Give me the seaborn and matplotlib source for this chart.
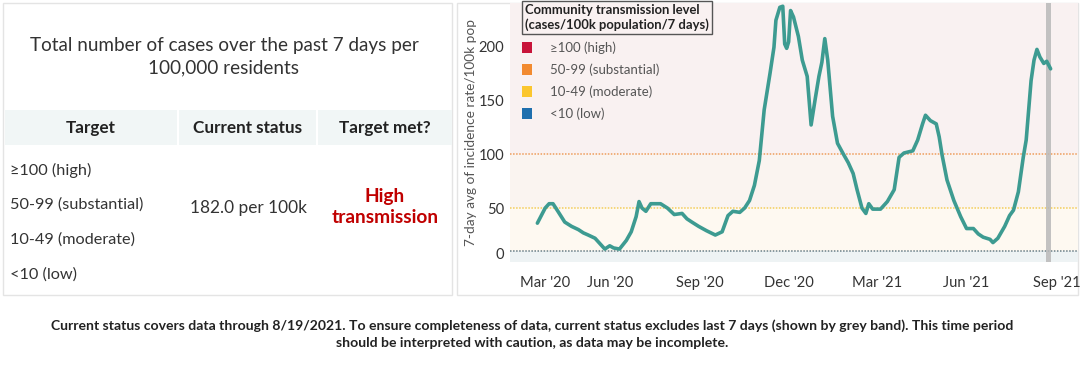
import pandas as pd
import seaborn as sns
import matplotlib
matplotlib.use("Agg")
import matplotlib.pyplot as plt
import matplotlib.dates as mdates
from matplotlib.patches import Patch, Rectangle

# ---------------------------------------------------------------------------
# data
# ---------------------------------------------------------------------------
dates = [
    "2020-03-19", "2020-03-27", "2020-03-31", "2020-04-04", "2020-04-09",
    "2020-04-16", "2020-04-23", "2020-04-30", "2020-05-05", "2020-05-10",
    "2020-05-17", "2020-05-27", "2020-06-01", "2020-06-05", "2020-06-11",
    "2020-06-18", "2020-06-23", "2020-06-28", "2020-07-01", "2020-07-04",
    "2020-07-08", "2020-07-13", "2020-07-23", "2020-07-30", "2020-08-06",
    "2020-08-14", "2020-08-19", "2020-08-24", "2020-08-31", "2020-09-08",
    "2020-09-17", "2020-09-24", "2020-09-30", "2020-10-05", "2020-10-12",
    "2020-10-17", "2020-10-22", "2020-10-27", "2020-11-01", "2020-11-06",
    "2020-11-12", "2020-11-16", "2020-11-18", "2020-11-22", "2020-11-25",
    "2020-11-27", "2020-11-29", "2020-12-01", "2020-12-03", "2020-12-06",
    "2020-12-11", "2020-12-15", "2020-12-20", "2020-12-24", "2020-12-28",
    "2021-01-01", "2021-01-04", "2021-01-07", "2021-01-10", "2021-01-15",
    "2021-01-20", "2021-01-26", "2021-01-31", "2021-02-05", "2021-02-09",
    "2021-02-14", "2021-02-18", "2021-02-21", "2021-02-25", "2021-03-05",
    "2021-03-12", "2021-03-19", "2021-03-24", "2021-03-29", "2021-04-07",
    "2021-04-12", "2021-04-17", "2021-04-20", "2021-04-25", "2021-05-01",
    "2021-05-04", "2021-05-07", "2021-05-12", "2021-05-19", "2021-05-26",
    "2021-06-01", "2021-06-08", "2021-06-13", "2021-06-18", "2021-06-25",
    "2021-06-28", "2021-07-03", "2021-07-10", "2021-07-15", "2021-07-19",
    "2021-07-24", "2021-07-29", "2021-08-01", "2021-08-06", "2021-08-09",
    "2021-08-12", "2021-08-15", "2021-08-19", "2021-08-22", "2021-08-26",
]
rates = [
    36, 50, 54, 54, 47,
    37, 33, 30, 27, 25,
    22, 12, 15, 13, 12,
    20, 28, 42, 56, 50,
    47, 54, 54, 50, 44,
    45, 40, 37, 33, 29,
    25, 28, 43, 47, 46,
    50, 57, 71, 94, 141,
    175, 199, 224, 236, 237,
    202, 198, 204, 233, 227,
    209, 187, 172, 127, 150,
    172, 185, 207, 187, 135,
    110, 100, 92, 82, 67,
    50, 45, 54, 49, 49,
    56, 67, 97, 101, 103,
    113, 128, 136, 131, 128,
    116, 99, 76, 57, 42,
    31, 31, 26, 23, 21,
    18, 22, 33, 43, 48,
    65, 97, 113, 168, 187,
    197, 190, 184, 186, 179,
]

band_edges = [0, 10, 50, 100, 240]
band_colors = ["#eef3f4", "#fef9f1", "#faf4f0", "#f9f1f1"]
threshold_values = [10, 50, 100]
threshold_colors = ["#6b7f87", "#f3cd5a", "#ee9d5c"]

level_labels = ["≥100 (high)", "50-99 (substantial)", "10-49 (moderate)", "<10 (low)"]
level_colors = ["#c8143a", "#f28a30", "#fbc62e", "#1f6fae"]

grey_band = ("2021-08-21", "2021-08-26")

table_title = "Total number of cases over the past 7 days per\n100,000 residents"
table_headers = ["Target", "Current status", "Target met?"]
table_targets = ["≥100 (high)", "50-99 (substantial)", "10-49 (moderate)", "<10 (low)"]
current_status = "182.0 per 100k"
target_met = "High\ntransmission"

footnote = ("Current status covers data through 8/19/2021. To ensure completeness of data, "
            "current status excludes last 7 days (shown by grey band). This time period\n"
            "should be interpreted with caution, as data may be incomplete.")

df = pd.DataFrame({"date": pd.to_datetime(dates), "rate": rates})

# ---------------------------------------------------------------------------
# figure
# ---------------------------------------------------------------------------
sns.set_theme(style="white")
plt.rcParams["font.family"] = ["Lato", "DejaVu Sans"]

W, H = 1080, 365
fig = plt.figure(figsize=(W / 100, H / 100), dpi=100)
fig.patch.set_facecolor("white")

# background layer in pixel coordinates for the table and panel frames
bg = fig.add_axes([0, 0, 1, 1])
bg.set_xlim(0, W)
bg.set_ylim(H, 0)
bg.axis("off")

bg.add_patch(Rectangle((3, 3), 449, 292, fill=False, ec="#e4e4e4", lw=1))
bg.add_patch(Rectangle((457, 3), 621, 292, fill=False, ec="#e4e4e4", lw=1))

# table
bg.text(224, 57, table_title, ha="center", va="center", fontsize=13.6,
        color="#333333", linespacing=1.4)
cells = [(5, 172), (179, 137), (318, 134)]
for (x0, w), head in zip(cells, table_headers):
    bg.add_patch(Rectangle((x0, 110), w, 35, fc="#f1f6f6", ec="none"))
    bg.text(x0 + w / 2, 128, head, ha="center", va="center", fontsize=12.3,
            fontweight="bold", color="#222222")
for i, t in enumerate(table_targets):
    bg.text(10, 170 + i * 35, t, ha="left", va="center", fontsize=11.7, color="#333333")
bg.text(248, 208, current_status, ha="center", va="center", fontsize=12.4, color="#333333")
bg.text(385, 207, target_met, ha="center", va="center", fontsize=13.8,
        fontweight="bold", color="#c00000", linespacing=1.3)

bg.text(532, 334, footnote, ha="center", va="center", fontsize=10.1, fontweight="bold",
        color="#222222", linespacing=1.45)

# chart
ax = fig.add_axes([510 / W, 1 - 262 / H, 568 / W, 259 / H])
ymax = band_edges[-1]
for lo, hi, c in zip(band_edges[:-1], band_edges[1:], band_colors):
    ax.axhspan(lo, hi, color=c, zorder=0, lw=0)
for v, c in zip(threshold_values, threshold_colors):
    ax.axhline(v, color=c, ls=(0, (1, 1)), lw=1.1, zorder=1)

ax.axvspan(pd.Timestamp(grey_band[0]), pd.Timestamp(grey_band[1]),
           color="#b9b9b9", alpha=0.85, lw=0, zorder=2)

sns.lineplot(data=df, x="date", y="rate", ax=ax, color="#3d9b91", lw=2.6, zorder=3)

ax.set_xlim(pd.Timestamp("2020-02-20"), pd.Timestamp("2021-09-23"))
ax.set_ylim(0, ymax)
ax.set_yticks([0, 50, 100, 150, 200])
ax.xaxis.set_major_locator(mdates.MonthLocator(bymonth=[3, 6, 9, 12]))
ax.xaxis.set_major_formatter(mdates.DateFormatter("%b '%y"))
ax.tick_params(axis="both", length=0, labelsize=10.6, colors="#333333")
ax.tick_params(axis="x", pad=10)
ax.tick_params(axis="y", pad=4)
ax.yaxis.get_ticklabels()[0].set_va("bottom")
ax.xaxis.get_ticklabels()[0].set_ha("left")
ax.set_xlabel("")
ax.set_ylabel("7-day avg of incidence rate/100k pop", fontsize=9.8, color="#555555",
              labelpad=1.5)
for s in ax.spines.values():
    s.set_visible(False)

# legend: boxed title plus colour squares
ax.text(0.027, 0.997, "Community transmission level\n(cases/100k population/7 days)",
        transform=ax.transAxes, ha="left", va="top", fontsize=9.4, fontweight="bold",
        color="#222222", linespacing=1.25, clip_on=False,
        bbox=dict(boxstyle="square,pad=0.25", fc="none", ec="#555555", lw=1))
handles = [Patch(fc=c, ec="none") for c in level_colors]
leg = ax.legend(handles, level_labels, loc="upper left", bbox_to_anchor=(0.022, 0.852),
                frameon=False, fontsize=9.5, handlelength=0.75, handleheight=0.85,
                handletextpad=1.3, labelspacing=0.72, borderpad=0, borderaxespad=0)
for t in leg.get_texts():
    t.set_color("#555555")

fig.savefig("out.png", dpi=100)
